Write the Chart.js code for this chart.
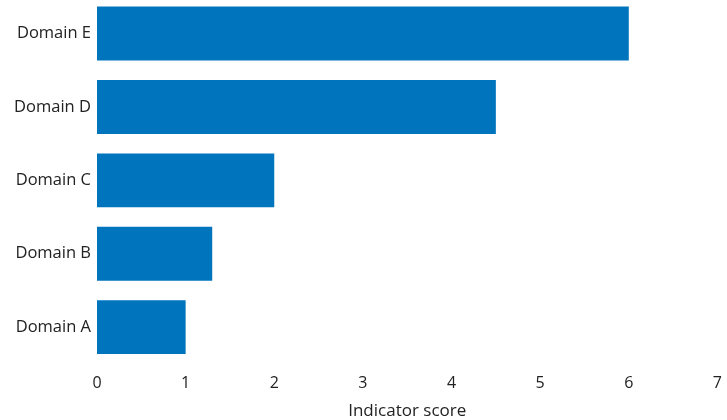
<!DOCTYPE html>
<html lang="en">
<head>
  <meta charset="UTF-8" />
  <title>Indicator score by domain</title>
  <script src="https://cdn.jsdelivr.net/npm/chart.js"></script>
  <style>
    * { box-sizing: border-box; margin: 0; padding: 0; }
    body { background: #fff; width: 727px; height: 420px; overflow: hidden; }
    .wrap { position: relative; width: 732px; height: 441px; margin-top: -19px; }
  </style>
</head>
<body>
  <div class="wrap"><canvas id="chart"></canvas></div>
  <script>
    // domains listed top to bottom
    const domains = ['Domain E', 'Domain D', 'Domain C', 'Domain B', 'Domain A'];
    const scores = [6, 4.5, 2, 1.3, 1];
    const xTicks = [0, 1, 2, 3, 4, 5, 6, 7];

    const font = '"Open Sans", Lato, sans-serif';
    const textColor = '#222';

    new Chart(document.getElementById('chart'), {
      type: 'bar',
      data: {
        labels: domains,
        datasets: [{
          data: scores,
          backgroundColor: '#0075bd',
          borderWidth: 0,
          categoryPercentage: 0.735,
          barPercentage: 1
        }]
      },
      options: {
        indexAxis: 'y',
        responsive: true,
        maintainAspectRatio: false,
        animation: false,
        layout: { padding: { top: 0, right: 3, bottom: 2, left: 0 } },
        plugins: { legend: { display: false }, tooltip: { enabled: false } },
        scales: {
          x: {
            min: xTicks[0],
            max: xTicks[xTicks.length - 1],
            afterBuildTicks: (axis) => { axis.ticks = xTicks.map(v => ({ value: v })); },
            grid: { display: false, drawTicks: false },
            border: { display: false },
            ticks: { color: textColor, font: { family: font, size: 16 }, padding: 10, maxRotation: 0 },
            title: { display: true, text: 'Indicator score', color: textColor, font: { family: font, size: 17, lineHeight: 1 }, padding: { top: 0, bottom: 0 } }
          },
          y: {
            grid: { display: false, drawTicks: false },
            border: { display: false },
            afterFit: (axis) => { axis.width = 97; },
            ticks: { color: textColor, font: { family: font, size: 16.5 }, padding: 6 }
          }
        }
      }
    });
  </script>
</body>
</html>
